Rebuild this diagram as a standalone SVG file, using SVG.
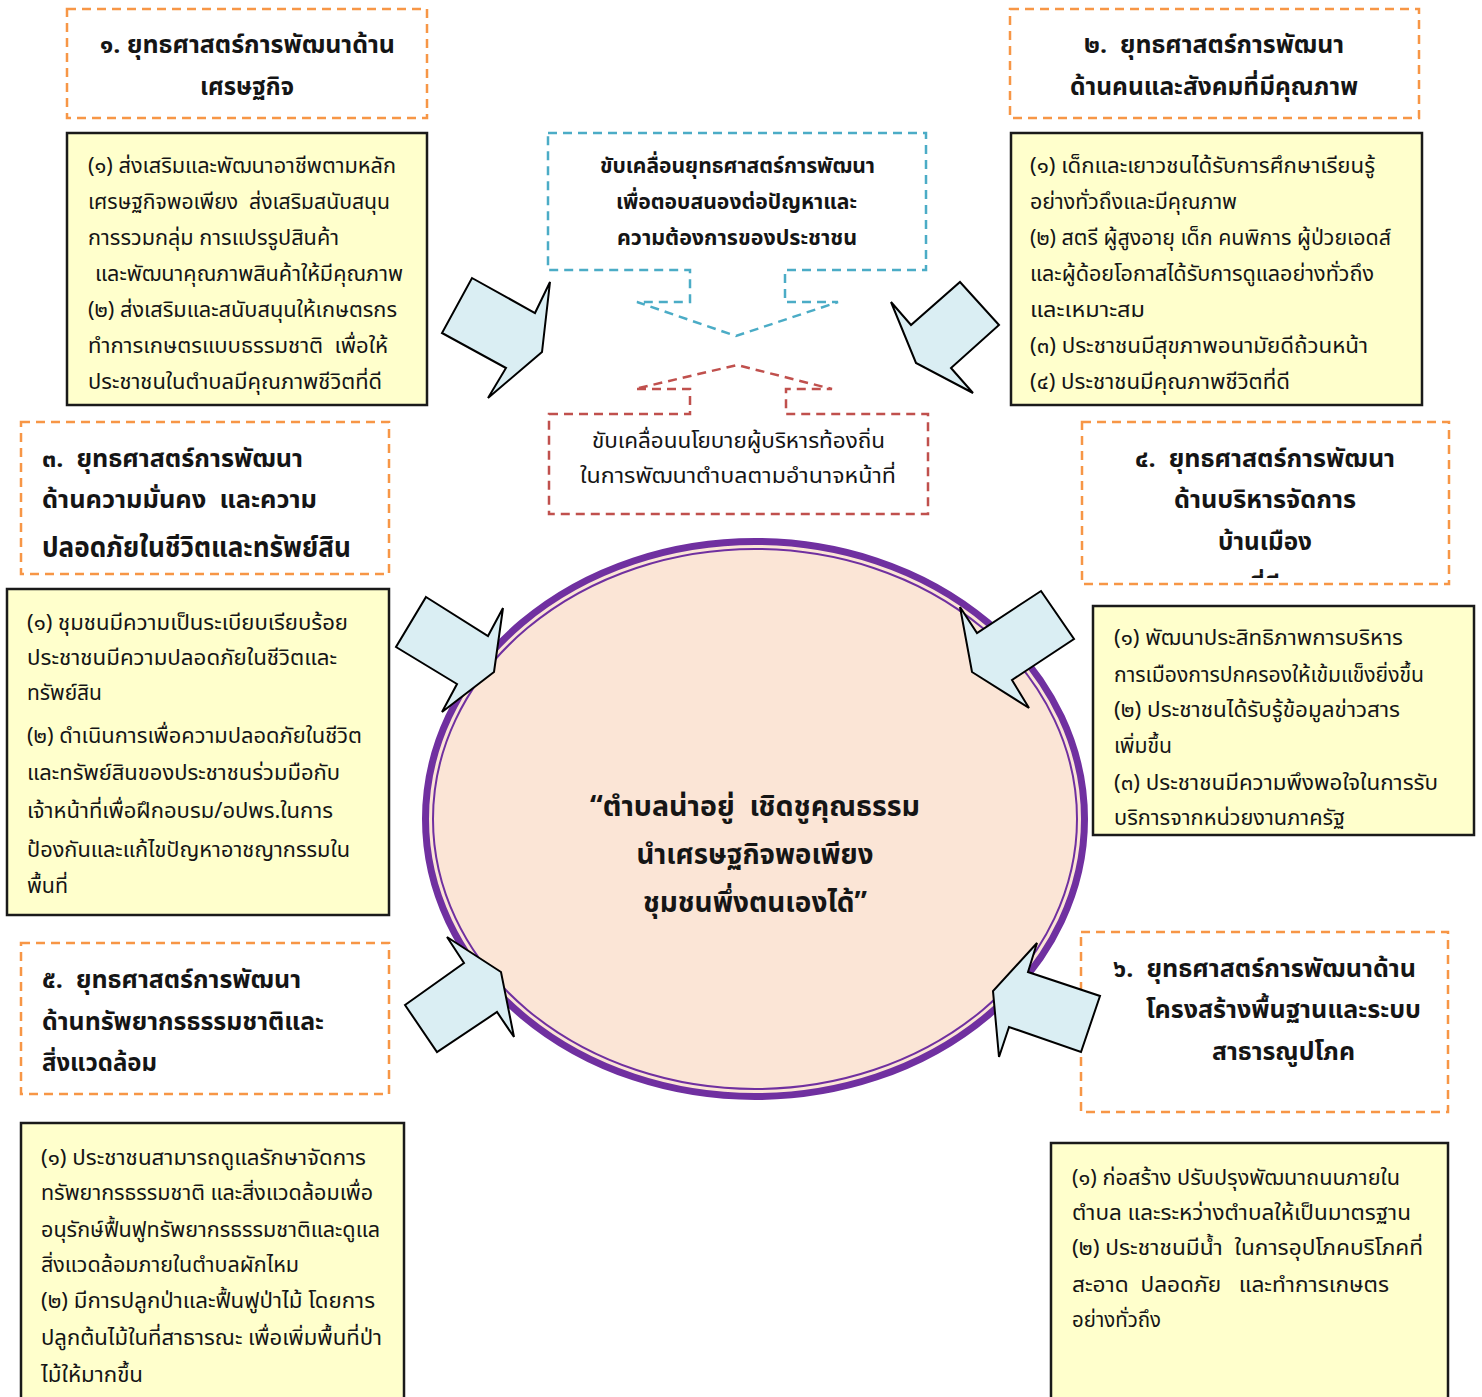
<svg xmlns="http://www.w3.org/2000/svg" width="1482" height="1397" viewBox="0 0 1482 1397" xml:space="preserve">
<defs>
<style>
text{font-family:"Noto Sans Thai","Noto Sans","DejaVu Sans",sans-serif;fill:#151515;white-space:pre}
.hd{font-size:24px;font-weight:bold}
.hb{font-size:28px;font-weight:bold}
.tx{font-size:21px}
.bx{font-size:21px;font-weight:bold}
.ct{font-size:28px;font-weight:bold;text-anchor:middle}
.or{fill:#fff;stroke:#F79646;stroke-width:2.5;stroke-dasharray:9 6}
.ye{fill:#FFFFCC;stroke:#1a1a1a;stroke-width:2.5}
.bl{fill:#fff;stroke:#4BACC6;stroke-width:2.5;stroke-dasharray:9 6}
.rd{fill:#fff;stroke:#C0504D;stroke-width:2.5;stroke-dasharray:9 6}
.ar{fill:#DAEEF3;stroke:#000;stroke-width:2;stroke-linejoin:miter}
</style>
<clipPath id="c4"><rect x="1082" y="422" width="367" height="157"/></clipPath>
</defs>
<rect width="1482" height="1397" fill="#fff"/>

<g id="center">
<ellipse cx="755" cy="819" rx="329.5" ry="277.5" fill="#FBE5D6" stroke="#7030A0" stroke-width="7"/>
<ellipse cx="755" cy="819" rx="322" ry="270" fill="none" stroke="#7030A0" stroke-width="2"/>
<text class="ct" x="755" y="816" textLength="330" lengthAdjust="spacingAndGlyphs">“ตำบลน่าอยู่  เชิดชูคุณธรรม</text>
<text class="ct" x="755" y="864" textLength="237" lengthAdjust="spacingAndGlyphs">นำเศรษฐกิจพอเพียง</text>
<text class="ct" x="755" y="912" textLength="224" lengthAdjust="spacingAndGlyphs">ชุมชนพึ่งตนเองได้”</text>
</g>

<g id="strategy1">
<rect class="or" x="67" y="9" width="360" height="109"/>
<text class="hd" x="100" y="53" textLength="295" lengthAdjust="spacingAndGlyphs">๑. ยุทธศาสตร์การพัฒนาด้าน</text>
<text class="hd" x="200" y="95" textLength="94" lengthAdjust="spacingAndGlyphs">เศรษฐกิจ</text>
</g>
<g id="detail1">
<rect class="ye" x="67" y="133" width="360" height="272"/>
<text class="tx" x="88" y="173" textLength="308" lengthAdjust="spacingAndGlyphs">(๑) ส่งเสริมและพัฒนาอาชีพตามหลัก</text>
<text class="tx" x="88" y="209" textLength="302" lengthAdjust="spacingAndGlyphs">เศรษฐกิจพอเพียง  ส่งเสริมสนับสนุน</text>
<text class="tx" x="88" y="245" textLength="251" lengthAdjust="spacingAndGlyphs">การรวมกลุ่ม การแปรรูปสินค้า</text>
<text class="tx" x="95" y="281" textLength="308" lengthAdjust="spacingAndGlyphs">และพัฒนาคุณภาพสินค้าให้มีคุณภาพ</text>
<text class="tx" x="88" y="317" textLength="309" lengthAdjust="spacingAndGlyphs">(๒) ส่งเสริมและสนับสนุนให้เกษตรกร</text>
<text class="tx" x="88" y="353" textLength="300" lengthAdjust="spacingAndGlyphs">ทำการเกษตรแบบธรรมชาติ  เพื่อให้</text>
<text class="tx" x="88" y="389" textLength="294" lengthAdjust="spacingAndGlyphs">ประชาชนในตำบลมีคุณภาพชีวิตที่ดี</text>
</g>

<g id="strategy2">
<rect class="or" x="1010" y="9" width="409" height="109"/>
<text class="hd" x="1084" y="53" textLength="260" lengthAdjust="spacingAndGlyphs">๒.  ยุทธศาสตร์การพัฒนา</text>
<text class="hd" x="1070" y="95" textLength="288" lengthAdjust="spacingAndGlyphs">ด้านคนและสังคมที่มีคุณภาพ</text>
</g>
<g id="detail2">
<rect class="ye" x="1011" y="133" width="411" height="272"/>
<text class="tx" x="1030" y="173" textLength="345" lengthAdjust="spacingAndGlyphs">(๑) เด็กและเยาวชนได้รับการศึกษาเรียนรู้</text>
<text class="tx" x="1030" y="209" textLength="207" lengthAdjust="spacingAndGlyphs">อย่างทั่วถึงและมีคุณภาพ</text>
<text class="tx" x="1030" y="245" textLength="361" lengthAdjust="spacingAndGlyphs">(๒) สตรี ผู้สูงอายุ เด็ก คนพิการ ผู้ป่วยเอดส์</text>
<text class="tx" x="1030" y="281" textLength="344" lengthAdjust="spacingAndGlyphs">และผู้ด้อยโอกาสได้รับการดูแลอย่างทั่วถึง</text>
<text class="tx" x="1030" y="317" textLength="115" lengthAdjust="spacingAndGlyphs">และเหมาะสม</text>
<text class="tx" x="1030" y="353" textLength="338" lengthAdjust="spacingAndGlyphs">(๓) ประชาชนมีสุขภาพอนามัยดีถ้วนหน้า</text>
<text class="tx" x="1030" y="389" textLength="260" lengthAdjust="spacingAndGlyphs">(๔) ประชาชนมีคุณภาพชีวิตที่ดี</text>
</g>

<g id="drive-strategy">
<path class="bl" d="M548,133 H926 V270 H785 V302 H838 L736,336 L637,302 H690 V270 H548 Z"/>
<text class="bx" x="737.5" y="173" text-anchor="middle" textLength="275" lengthAdjust="spacingAndGlyphs">ขับเคลื่อนยุทธศาสตร์การพัฒนา</text>
<text class="bx" x="736.5" y="209" text-anchor="middle" textLength="241" lengthAdjust="spacingAndGlyphs">เพื่อตอบสนองต่อปัญหาและ</text>
<text class="bx" x="737" y="245" text-anchor="middle" textLength="240" lengthAdjust="spacingAndGlyphs">ความต้องการของประชาชน</text>
</g>

<g id="drive-policy">
<path class="rd" d="M549,414 H690 V389 H635 L737,365 L832,389 H786 V414 H928 V514 H549 Z"/>
<text class="tx" x="738.5" y="448" text-anchor="middle" textLength="293" lengthAdjust="spacingAndGlyphs">ขับเคลื่อนนโยบายผู้บริหารท้องถิ่น</text>
<text class="tx" x="738" y="483" text-anchor="middle" textLength="316" lengthAdjust="spacingAndGlyphs">ในการพัฒนาตำบลตามอำนาจหน้าที่</text>
</g>

<g id="strategy3">
<rect class="or" x="21" y="422" width="368" height="152"/>
<text class="hd" x="42" y="467" textLength="261" lengthAdjust="spacingAndGlyphs">๓.  ยุทธศาสตร์การพัฒนา</text>
<text class="hd" x="42" y="508" textLength="275" lengthAdjust="spacingAndGlyphs">ด้านความมั่นคง  และความ</text>
<text class="hb" x="42" y="557" textLength="309" lengthAdjust="spacingAndGlyphs">ปลอดภัยในชีวิตและทรัพย์สิน</text>
</g>
<g id="detail3">
<rect class="ye" x="7" y="589" width="382" height="326"/>
<text class="tx" x="27" y="630" textLength="321" lengthAdjust="spacingAndGlyphs">(๑) ชุมชนมีความเป็นระเบียบเรียบร้อย</text>
<text class="tx" x="27" y="665" textLength="310" lengthAdjust="spacingAndGlyphs">ประชาชนมีความปลอดภัยในชีวิตและ</text>
<text class="tx" x="27" y="700" textLength="75" lengthAdjust="spacingAndGlyphs">ทรัพย์สิน</text>
<text class="tx" x="27" y="743" textLength="335" lengthAdjust="spacingAndGlyphs">(๒) ดำเนินการเพื่อความปลอดภัยในชีวิต</text>
<text class="tx" x="27" y="780" textLength="313" lengthAdjust="spacingAndGlyphs">และทรัพย์สินของประชาชนร่วมมือกับ</text>
<text class="tx" x="27" y="818" textLength="306" lengthAdjust="spacingAndGlyphs">เจ้าหน้าที่เพื่อฝึกอบรม/อปพร.ในการ</text>
<text class="tx" x="27" y="857" textLength="323" lengthAdjust="spacingAndGlyphs">ป้องกันและแก้ไขปัญหาอาชญากรรมใน</text>
<text class="tx" x="27" y="893" textLength="41" lengthAdjust="spacingAndGlyphs">พื้นที่</text>
</g>

<g id="strategy4">
<rect class="or" x="1082" y="422" width="367" height="162"/>
<text class="hd" x="1135" y="467" textLength="260" lengthAdjust="spacingAndGlyphs">๔.  ยุทธศาสตร์การพัฒนา</text>
<text class="hd" x="1265" y="508" text-anchor="middle" textLength="182" lengthAdjust="spacingAndGlyphs">ด้านบริหารจัดการ</text>
<text class="hd" x="1265" y="550" text-anchor="middle" textLength="94" lengthAdjust="spacingAndGlyphs">บ้านเมือง</text>
<text class="hd" x="1265" y="594" text-anchor="middle" clip-path="url(#c4)">ที่ดี</text>
</g>
<g id="detail4">
<rect class="ye" x="1093" y="606" width="381" height="229"/>
<text class="tx" x="1114" y="645" textLength="289" lengthAdjust="spacingAndGlyphs">(๑) พัฒนาประสิทธิภาพการบริหาร</text>
<text class="tx" x="1114" y="682" textLength="310" lengthAdjust="spacingAndGlyphs">การเมืองการปกครองให้เข้มแข็งยิ่งขึ้น</text>
<text class="tx" x="1114" y="717" textLength="286" lengthAdjust="spacingAndGlyphs">(๒) ประชาชนได้รับรู้ข้อมูลข่าวสาร</text>
<text class="tx" x="1114" y="753" textLength="58" lengthAdjust="spacingAndGlyphs">เพิ่มขึ้น</text>
<text class="tx" x="1114" y="790" textLength="324" lengthAdjust="spacingAndGlyphs">(๓) ประชาชนมีความพึงพอใจในการรับ</text>
<text class="tx" x="1114" y="825" textLength="231" lengthAdjust="spacingAndGlyphs">บริการจากหน่วยงานภาครัฐ</text>
</g>

<g id="strategy5">
<rect class="or" x="21" y="943" width="368" height="151"/>
<text class="hd" x="42" y="988" textLength="259" lengthAdjust="spacingAndGlyphs">๕.  ยุทธศาสตร์การพัฒนา</text>
<text class="hd" x="42" y="1030" textLength="282" lengthAdjust="spacingAndGlyphs">ด้านทรัพยากรธรรมชาติและ</text>
<text class="hd" x="42" y="1071" textLength="115" lengthAdjust="spacingAndGlyphs">สิ่งแวดล้อม</text>
</g>
<g id="detail5">
<rect class="ye" x="21" y="1123" width="383" height="290"/>
<text class="tx" x="41" y="1165" textLength="325" lengthAdjust="spacingAndGlyphs">(๑) ประชาชนสามารถดูแลรักษาจัดการ</text>
<text class="tx" x="41" y="1200" textLength="332" lengthAdjust="spacingAndGlyphs">ทรัพยากรธรรมชาติ และสิ่งแวดล้อมเพื่อ</text>
<text class="tx" x="41" y="1237" textLength="339" lengthAdjust="spacingAndGlyphs">อนุรักษ์ฟื้นฟูทรัพยากรธรรมชาติและดูแล</text>
<text class="tx" x="41" y="1272" textLength="258" lengthAdjust="spacingAndGlyphs">สิ่งแวดล้อมภายในตำบลผักไหม</text>
<text class="tx" x="41" y="1308" textLength="334" lengthAdjust="spacingAndGlyphs">(๒) มีการปลูกป่าและฟื้นฟูป่าไม้ โดยการ</text>
<text class="tx" x="41" y="1345" textLength="341" lengthAdjust="spacingAndGlyphs">ปลูกต้นไม้ในที่สาธารณะ เพื่อเพิ่มพื้นที่ป่า</text>
<text class="tx" x="41" y="1382" textLength="102" lengthAdjust="spacingAndGlyphs">ไม้ให้มากขึ้น</text>
</g>

<g id="strategy6">
<rect class="or" x="1081" y="932" width="367" height="180"/>
<text class="hd" x="1113" y="977" textLength="303" lengthAdjust="spacingAndGlyphs">๖.  ยุทธศาสตร์การพัฒนาด้าน</text>
<text class="hd" x="1146" y="1018" textLength="275" lengthAdjust="spacingAndGlyphs">โครงสร้างพื้นฐานและระบบ</text>
<text class="hd" x="1212" y="1060" textLength="143" lengthAdjust="spacingAndGlyphs">สาธารณูปโภค</text>
</g>
<g id="detail6">
<rect class="ye" x="1051" y="1143" width="397" height="270"/>
<text class="tx" x="1072" y="1185" textLength="328" lengthAdjust="spacingAndGlyphs">(๑) ก่อสร้าง ปรับปรุงพัฒนาถนนภายใน</text>
<text class="tx" x="1072" y="1220" textLength="339" lengthAdjust="spacingAndGlyphs">ตำบล และระหว่างตำบลให้เป็นมาตรฐาน</text>
<text class="tx" x="1072" y="1255" textLength="351" lengthAdjust="spacingAndGlyphs">(๒) ประชาชนมีน้ำ  ในการอุปโภคบริโภคที่</text>
<text class="tx" x="1072" y="1292" textLength="317" lengthAdjust="spacingAndGlyphs">สะอาด  ปลอดภัย   และทำการเกษตร</text>
<text class="tx" x="1072" y="1327" textLength="89" lengthAdjust="spacingAndGlyphs">อย่างทั่วถึง</text>
</g>

<g id="connectors">
<polygon class="ar" points="472,278 535,313 550,282 542,352 488,398 506,368 442,333"/>
<polygon class="ar" points="960,282 999,325 951,368 973,393 916,363 891,302 911,325"/>
<polygon class="ar" points="426,597 488,636 503,608 494,672 442,712 457,684 396,647"/>
<polygon class="ar" points="1041,591 1074,639 1012,680 1029,708 972,672 960,607 977,633"/>
<polygon class="ar" points="405,1005 464,963 447,937 501,972 514,1037 497,1012 437,1052"/>
<polygon class="ar" points="1037,943 1028,972 1100,996 1081,1052 1009,1027 999,1057 993,991"/>
</g>
</svg>
